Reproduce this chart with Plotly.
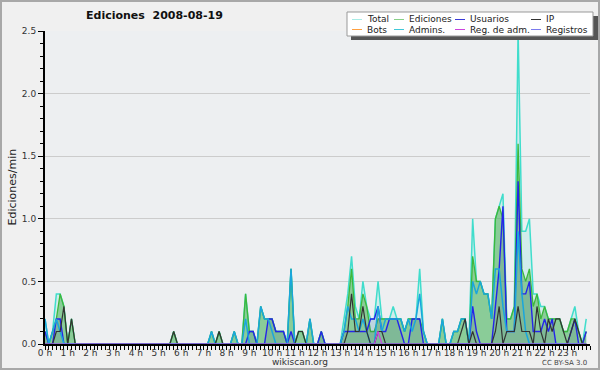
import plotly.graph_objects as go

# Edits counted per 10-minute slot (slot 0 = 00:00), 2008-08-19
total_counts = [
    2,0,1,4,4,3,0,2,0,0,0,0,0,0,0,0,0,0,0,0,0,0,0,0,
    0,0,0,0,0,0,0,0,0,0,1,0,0,0,0,0,0,0,0,0,1,0,1,0,
    0,0,1,0,0,4,1,1,0,3,2,2,2,1,1,1,0,6,0,1,1,0,2,0,
    0,1,0,0,0,0,0,2,4,7,3,2,5,3,2,2,5,2,2,2,3,2,2,1,
    2,2,2,6,1,0,0,0,0,2,0,0,1,1,2,2,0,10,5,5,4,4,2,10,
    11,12,2,2,3,25,9,9,10,4,4,3,3,2,2,2,2,1,1,2,3,1,0,2,
]
edits_counts = [
    1,0,1,2,4,3,0,2,0,0,0,0,0,0,0,0,0,0,0,0,0,0,0,0,
    0,0,0,0,0,0,0,0,0,0,1,0,0,0,0,0,0,0,0,0,1,0,1,0,
    0,0,1,0,0,4,1,1,0,3,2,2,2,1,1,1,0,6,0,1,1,0,2,0,
    0,1,0,0,0,0,0,1,3,6,2,2,4,3,1,1,2,2,2,2,2,2,2,1,
    2,2,2,2,1,0,0,0,0,2,0,0,1,1,2,2,0,7,5,5,4,4,2,10,
    11,10,2,2,3,16,6,5,6,3,4,2,3,2,2,2,2,1,1,2,2,1,0,1,
]
users_counts = [
    1,0,0,2,2,0,0,0,0,0,0,0,0,0,0,0,0,0,0,0,0,0,0,0,
    0,0,0,0,0,0,0,0,0,0,0,0,0,0,0,0,0,0,0,0,0,0,0,0,
    0,0,0,0,0,0,1,1,0,0,0,2,2,1,1,1,0,1,0,0,0,0,0,0,
    0,1,0,0,0,0,0,1,1,1,1,1,1,1,2,2,3,1,1,2,2,2,1,0,
    0,2,2,2,0,0,0,0,0,0,0,0,0,0,0,0,0,3,1,0,0,0,0,3,
    6,11,1,1,1,13,4,4,5,1,1,1,2,1,2,0,0,0,0,1,2,0,0,1,
]
ip_counts = [
    0,0,0,1,1,3,0,2,0,0,0,0,0,0,0,0,0,0,0,0,0,0,0,0,
    0,0,0,0,0,0,0,0,0,0,1,0,0,0,0,0,0,0,0,0,0,0,1,0,
    0,0,0,0,0,0,0,0,0,0,0,0,0,0,0,0,0,0,0,1,1,0,0,0,
    0,0,0,0,0,0,0,0,1,4,1,1,3,1,0,0,1,1,0,0,0,0,0,0,
    0,0,0,0,0,0,0,0,0,0,0,0,0,0,1,2,0,1,0,0,0,0,0,1,
    3,0,1,1,1,3,1,1,1,0,3,1,0,2,1,2,2,1,0,1,2,1,0,0,
]
admins_counts = [
    2,0,1,2,1,0,0,0,0,0,0,0,0,0,0,0,0,0,0,0,0,0,0,0,
    0,0,0,0,0,0,0,0,0,0,0,0,0,0,0,0,0,0,0,0,1,0,0,0,
    0,0,1,0,0,2,0,0,0,3,2,2,1,0,0,0,0,6,0,0,0,0,2,0,
    0,0,0,0,0,0,0,1,3,2,2,1,2,1,0,0,3,1,2,2,2,2,2,1,
    2,1,2,4,1,0,0,0,0,2,0,0,1,1,2,2,0,5,4,5,4,4,2,6,
    6,3,1,1,1,9,4,1,0,0,0,0,0,0,0,0,0,0,0,0,0,0,0,0,
]
regadm_counts = [
    0,0,0,0,0,0,0,0,0,0,0,0,0,0,0,0,0,0,0,0,0,0,0,0,
    0,0,0,0,0,0,0,0,0,0,0,0,0,0,0,0,0,0,0,0,0,0,0,0,
    0,0,0,0,0,0,0,0,0,0,0,0,0,0,0,0,0,0,0,0,0,0,0,0,
    0,0,0,0,0,0,0,0,0,0,0,0,0,0,0,0,1,0,0,0,0,0,0,0,
    0,0,0,0,0,0,0,0,0,0,0,0,0,0,0,0,0,0,0,0,0,0,0,0,
    0,0,0,0,0,0,0,0,0,0,0,0,0,0,0,0,0,0,0,0,0,0,0,0,
]
bots_counts = [0] * 144
registros_counts = [0] * 144

hour_labels = [f"{h} h" for h in range(24)]
y_ticks = [0, 0.5, 1.0, 1.5, 2.0, 2.5]

slots = list(range(len(total_counts)))
x_hours = [s / 6 for s in slots]


def per_min(counts):
    return [c / 10 for c in counts]


# page geometry helpers (pixels -> paper)
L, R, T, B = 45, 10, 31, 26
W, H = 600, 370
PW, PH = W - L - R, H - T - B


def px(x):
    return (x - L) / PW


def py(y):
    return (H - B - y) / PH


FONT = "DejaVu Sans"

fig = go.Figure()

series = [
    ("Bots", bots_counts, "#ffa040", None, 1),
    ("Total", total_counts, "#40ddcc", "rgba(64,224,208,0.16)", 1.5),
    ("Ediciones", edits_counts, "#3cb83c", "rgba(60,170,60,0.48)", 1.3),
    ("Usuarios", users_counts, "#2424ea", "rgba(50,50,150,0.12)", 1.4),
    ("Admins.", admins_counts, "#1aa6dc", None, 1.5),
    ("IP", ip_counts, "#333333", None, 1.2),
    ("Reg. de adm.", regadm_counts, "#cc44dd", None, 1.2),
    ("Registros", registros_counts, "#7a7aee", None, 1.2),
]
for name, counts, color, fillc, lw in series:
    kw = dict(fill="tozeroy", fillcolor=fillc) if fillc else {}
    fig.add_trace(go.Scatter(
        x=x_hours, y=per_min(counts), mode="lines", name=name,
        line=dict(color=color, width=lw), showlegend=False,
        hoverinfo="skip", **kw))

shapes = []
# outer frame
shapes.append(dict(type="rect", xref="paper", yref="paper",
                   x0=px(1), x1=px(599), y0=py(369), y1=py(1),
                   line=dict(color="#a8a8a8", width=2), layer="below"))
# legend shadow + box
shapes.append(dict(type="rect", xref="paper", yref="paper",
                   x0=px(351), x1=px(598), y0=py(40), y1=py(16),
                   line=dict(width=0), fillcolor="#555555"))
shapes.append(dict(type="rect", xref="paper", yref="paper",
                   x0=px(347), x1=px(593), y0=py(36), y1=py(12),
                   line=dict(color="#999999", width=1), fillcolor="white"))

legend_items = [
    ("Total", "#a8ece6", 0, 0), ("Ediciones", "#88d088", 1, 0),
    ("Usuarios", "#3a3ad8", 2, 0), ("IP", "#333333", 3, 0),
    ("Bots", "#ffa040", 0, 1), ("Admins.", "#40c8d8", 1, 1),
    ("Reg. de adm.", "#cc44dd", 2, 1), ("Registros", "#7a7aee", 3, 1),
]
col_x = [352, 394, 455, 531]
row_y = [19.5, 29.5]
annotations = []
for text, color, c, r in legend_items:
    x0 = col_x[c]
    yy = row_y[r]
    shapes.append(dict(type="line", xref="paper", yref="paper",
                       x0=px(x0), x1=px(x0 + 10), y0=py(yy), y1=py(yy),
                       line=dict(color=color, width=1)))
    annotations.append(dict(text=text, xref="paper", yref="paper",
                            x=px(x0 + 13), y=py(yy), xanchor="left",
                            yanchor="middle", showarrow=False,
                            font=dict(family=FONT, size=9, color="#222")))

annotations += [
    dict(text="<b>Ediciones  2008-08-19</b>", xref="paper", yref="paper",
         x=px(154), y=py(16), xanchor="center", yanchor="middle",
         showarrow=False, font=dict(family=FONT, size=11, color="#111")),
    dict(text="Ediciones/min", xref="paper", yref="paper",
         x=px(12), y=0.5, textangle=-90, xanchor="center", yanchor="middle",
         showarrow=False, font=dict(family=FONT, size=11, color="#222")),
    dict(text="wikiscan.org", xref="paper", yref="paper",
         x=px(300), y=py(362), xanchor="center", yanchor="middle",
         showarrow=False, font=dict(family=FONT, size=9, color="#333")),
    dict(text="CC BY-SA 3.0", xref="paper", yref="paper",
         x=px(589), y=py(362.5), xanchor="right", yanchor="middle",
         showarrow=False, font=dict(family=FONT, size=7, color="#444")),
]

fig.update_layout(
    width=W, height=H, autosize=False,
    margin=dict(l=L, r=R, t=T, b=B, pad=0),
    paper_bgcolor="#f0f0f0", plot_bgcolor="#edeff1",
    shapes=shapes, annotations=annotations, showlegend=False,
    font=dict(family=FONT, size=9, color="#333"),
)
fig.update_xaxes(
    range=[0, 24], tickmode="array", tickvals=list(range(24)),
    ticktext=hour_labels, ticks="outside", ticklen=4, tickwidth=1,
    tickcolor="black", showline=True, linecolor="black", linewidth=2,
    showgrid=False, zeroline=False, tickfont=dict(family=FONT, size=9, color="#333"),
    ticklabelstandoff=-5,
    minor=dict(dtick=1 / 6, tick0=0, ticks="outside", ticklen=4,
               tickcolor="black", tickwidth=1, showgrid=False),
)
fig.update_yaxes(
    range=[0, 2.5], tickmode="array", tickvals=y_ticks,
    ticktext=[f"{v:.1f}" for v in y_ticks], ticks="outside", ticklen=5,
    tickwidth=1, tickcolor="black", showline=True, linecolor="black",
    linewidth=2, showgrid=True, gridcolor="#cccccc", gridwidth=1,
    zeroline=False, tickfont=dict(family=FONT, size=9, color="#333"),
    minor=dict(dtick=0.1, tick0=0, ticks="outside", ticklen=3,
               tickcolor="black", tickwidth=1, showgrid=False),
)

fig.write_html("out.html")
